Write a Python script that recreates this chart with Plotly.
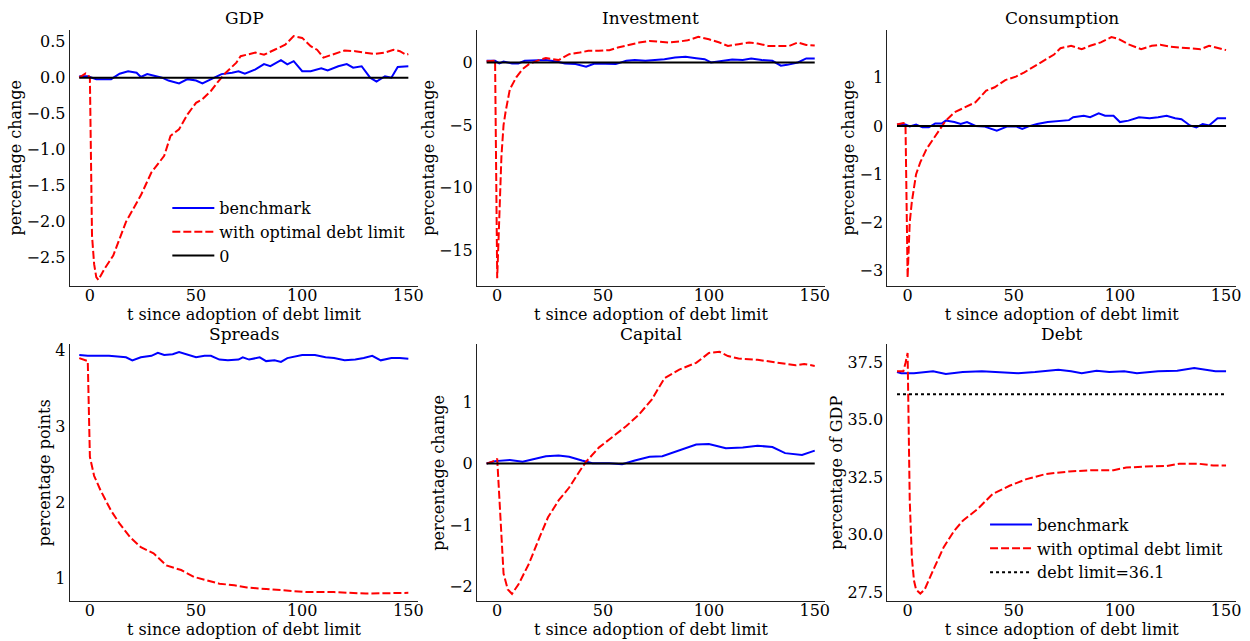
import plotly.graph_objects as go
from plotly.subplots import make_subplots

# ---------------- data ----------------
t_gdp_bench = [-5,-1,3,7,10,14,18,22,24,27,31,34,37,42,46,50,53,56,59,62,67,70,73,78,82,85,90,93,96,100,104,109,112,117,121,124,128,132,135,139,142,145,150]
gdp_bench = [0.02,0.02,-0.02,-0.02,-0.02,0.055,0.09,0.07,0.01,0.05,0.02,0,-0.04,-0.08,-0.02,-0.04,-0.08,-0.04,0,0.05,0.07,0.09,0.055,0.115,0.19,0.16,0.245,0.185,0.23,0.09,0.09,0.13,0.10,0.16,0.19,0.14,0.16,0,-0.055,0.02,0,0.15,0.16]
t_gdp_lim = [-5,-2,-1,0,1,2,3,4,7,11,17,24,29,35,38,42,46,50,53,57,60,64,69,71,78,82,87,92,96,100,104,107,110,115,120,125,129,134,139,143,146,149,150]
gdp_lim = [0,0.06,0.04,0.0,-2.2,-2.6,-2.78,-2.82,-2.66,-2.48,-2.01,-1.64,-1.32,-1.09,-0.81,-0.72,-0.51,-0.35,-0.30,-0.185,-0.07,0.07,0.21,0.30,0.35,0.32,0.39,0.46,0.58,0.555,0.44,0.39,0.28,0.33,0.38,0.37,0.35,0.33,0.35,0.39,0.37,0.32,0.33]

t_inv_bench = [-5,-1,1,3,7,10,13,18,23,28,32,37,42,46,51,56,61,65,70,75,79,84,89,94,98,101,106,111,116,120,125,130,134,137,142,146,150]
inv_bench = [0.13,0.13,-0.08,0.08,-0.08,-0.08,0.13,0.13,0.19,0.08,-0.08,-0.13,-0.34,-0.08,-0.08,-0.13,0.13,0.19,0.13,0.19,0.26,0.40,0.45,0.34,0.26,0,0.13,0.24,0.19,0.32,0.19,0.13,-0.26,-0.19,0,0.32,0.32]
t_inv_lim = [-5,-1,0,1,2,3,4,6,9,12,15,20,23,29,34,39,43,48,53,57,62,67,72,76,81,86,90,95,100,105,109,114,119,123,128,133,138,142,146,150]
inv_lim = [0.1,0.15,-17.2,-12.0,-7.5,-5.0,-3.9,-2.12,-1.19,-0.53,-0.13,0.21,0.35,0.19,0.66,0.79,0.93,0.93,0.98,1.19,1.40,1.59,1.72,1.67,1.59,1.67,1.77,2.04,1.85,1.59,1.32,1.46,1.59,1.51,1.32,1.32,1.32,1.59,1.40,1.35]

t_con_bench = [-5,-1,1,4,7,10,13,16,18,22,25,28,32,36,42,47,51,54,57,61,66,71,76,78,83,86,90,93,97,100,104,109,114,118,122,126,129,133,136,139,142,146,150]
con_bench = [0.03,0.03,-0.01,0.03,-0.03,-0.03,0.05,0.05,0.11,0.08,0.04,0.08,0,-0.01,-0.10,-0.01,-0.01,-0.06,-0.01,0.04,0.08,0.10,0.12,0.18,0.21,0.18,0.26,0.21,0.21,0.08,0.11,0.18,0.16,0.18,0.21,0.16,0.14,0.01,-0.03,0.04,0.01,0.16,0.16]
t_con_lim = [-5,-2,-1,0,1,2,4,6,9,12,15,18,22,27,32,37,41,46,51,55,60,65,69,72,77,82,86,91,96,99,104,110,115,119,124,129,133,138,142,146,150]
con_lim = [0.03,0.06,0.04,-3.15,-2.0,-1.57,-1.0,-0.75,-0.47,-0.27,-0.095,0.11,0.28,0.38,0.49,0.73,0.80,0.95,1.02,1.11,1.24,1.38,1.48,1.61,1.66,1.59,1.66,1.73,1.84,1.81,1.69,1.59,1.66,1.68,1.64,1.62,1.61,1.59,1.66,1.62,1.57]

t_spr_bench = [-5,-1,4,9,13,17,20,24,29,32,35,39,42,45,50,54,57,61,65,70,72,75,80,83,87,90,93,100,106,111,115,120,125,129,133,137,142,146,150]
spr_bench = [3.94,3.93,3.93,3.93,3.92,3.91,3.87,3.91,3.93,3.97,3.94,3.95,3.98,3.95,3.91,3.93,3.93,3.88,3.87,3.88,3.91,3.88,3.91,3.86,3.87,3.85,3.90,3.94,3.94,3.91,3.90,3.87,3.88,3.90,3.93,3.87,3.90,3.90,3.89]
t_spr_lim = [-5,-1,0,1,2,5,10,14,19,24,30,36,43,49,55,61,68,74,83,93,102,115,130,150]
spr_lim = [3.90,3.86,2.6,2.45,2.35,2.16,1.89,1.72,1.54,1.41,1.33,1.17,1.11,1.02,0.98,0.93,0.91,0.88,0.86,0.84,0.82,0.82,0.80,0.81]

t_cap_bench = [-5,-1,6,12,17,23,29,34,40,45,53,59,65,72,78,84,89,94,100,108,116,123,130,136,144,150]
cap_bench = [0,0.04,0.06,0.03,0.07,0.12,0.13,0.11,0.05,0.005,0.005,-0.01,0.05,0.11,0.12,0.19,0.26,0.31,0.32,0.25,0.26,0.29,0.27,0.17,0.14,0.21]
t_cap_lim = [-5,-1,0,1,2,3,5,7,10,15,20,24,29,34,39,42,48,54,61,67,73,79,86,94,100,105,109,114,123,131,141,145,150]
cap_lim = [0,0.05,0.08,-0.6,-1.3,-1.79,-2.05,-2.12,-1.97,-1.63,-1.2,-0.875,-0.60,-0.39,-0.12,0.03,0.26,0.42,0.61,0.80,1.04,1.39,1.53,1.64,1.80,1.82,1.75,1.71,1.69,1.65,1.60,1.62,1.59]

t_debt_bench = [-5,-3,3,12,18,26,35,44,52,60,71,77,82,89,95,102,108,118,127,135,140,145,150]
debt_bench = [37.07,37.02,37.02,37.10,36.98,37.07,37.10,37.07,37.02,37.07,37.17,37.10,37.02,37.12,37.07,37.10,37.02,37.10,37.12,37.24,37.17,37.10,37.10]
t_debt_lim = [-5,-2,-1,0,1,2,3,4,6,8,12,17,22,26,33,40,48,56,65,76,87,97,103,112,122,128,137,144,150]
debt_lim = [37.1,37.1,37.46,37.9,31.5,29.0,28.0,27.6,27.43,27.6,28.44,29.45,30.17,30.6,31.11,31.76,32.12,32.41,32.63,32.74,32.80,32.80,32.91,32.96,32.98,33.08,33.08,33.0,33.0]

t_span = [-5, 150]
zero_line = [0, 0]
debt_limit_value = 36.1
debt_limit_line = [debt_limit_value, debt_limit_value]

titles = ["GDP", "Investment", "Consumption", "Spreads", "Capital", "Debt"]
ylabels = ["percentage change", "percentage change", "percentage change",
           "percentage points", "percentage change", "percentage of GDP"]
xlabel = "t since adoption of debt limit"

# ---------------- figure ----------------
W, H = 1250, 641
FONT = "DejaVu Serif, Liberation Serif, serif"
fig = make_subplots(rows=2, cols=3)

BLUE = dict(color="blue", width=2)
RED = dict(color="red", width=2, dash="8px,3px")
BLACK = dict(color="black", width=2)

panels = [
    (1, 1, t_gdp_bench, gdp_bench, t_gdp_lim, gdp_lim, True),
    (1, 2, t_inv_bench, inv_bench, t_inv_lim, inv_lim, True),
    (1, 3, t_con_bench, con_bench, t_con_lim, con_lim, True),
    (2, 1, t_spr_bench, spr_bench, t_spr_lim, spr_lim, False),
    (2, 2, t_cap_bench, cap_bench, t_cap_lim, cap_lim, True),
    (2, 3, t_debt_bench, debt_bench, t_debt_lim, debt_lim, False),
]

for i, (r, c, tb, yb, tl, yl, zero) in enumerate(panels):
    leg = None
    show = False
    if i == 0:
        leg, show = "legend", True
    elif i == 5:
        leg, show = "legend2", True
    kw = dict(legend=leg) if leg else {}
    fig.add_trace(go.Scatter(x=tb, y=yb, mode="lines", line=BLUE, name="benchmark",
                             showlegend=show, **kw), row=r, col=c)
    fig.add_trace(go.Scatter(x=tl, y=yl, mode="lines", line=RED, name="with optimal debt limit",
                             showlegend=show, **kw), row=r, col=c)
    if zero:
        fig.add_trace(go.Scatter(x=t_span, y=zero_line, mode="lines", line=BLACK, name="0",
                                 showlegend=show, **kw), row=r, col=c)
    if i == 5:
        fig.add_trace(go.Scatter(x=t_span, y=debt_limit_line, mode="lines",
                                 line=dict(color="black", width=2, dash="dot"),
                                 name="debt limit=36.1", showlegend=True, legend="legend2"),
                      row=r, col=c)

# panel geometry in pixels (left, right, top, bottom)
xpix = [(70, 420), (479, 828), (891, 1241)]
ypix = [(27, 284), (343, 601)]
yranges = [(-2.90, 0.667), (-17.8, 2.6), (-3.31, 1.99), (0.70, 4.08), (-2.24, 1.94), (27.1, 38.27)]
ytick = [
    ([-2.5, -2.0, -1.5, -1.0, -0.5, 0.0, 0.5], ".1f"),
    ([-15, -10, -5, 0], "d"),
    ([-3, -2, -1, 0, 1], "d"),
    ([1, 2, 3, 4], "d"),
    ([-2, -1, 0, 1], "d"),
    ([27.5, 30.0, 32.5, 35.0, 37.5], ".1f"),
]

for i in range(6):
    r, c = divmod(i, 3)
    xl, xr = xpix[c]
    yt, yb_ = ypix[r]
    xa = "xaxis" if i == 0 else f"xaxis{i+1}"
    ya = "yaxis" if i == 0 else f"yaxis{i+1}"
    fig.layout[xa].update(
        domain=[xl / W, xr / W], range=[-9.5, 154.7],
        tickvals=[0, 50, 100, 150], ticks="", showgrid=False, zeroline=False,
        showline=True, linecolor="#222", linewidth=1.2, ticklabelstandoff=-5,
        tickfont=dict(family=FONT, size=16, color="black"),
        title=dict(text=xlabel, font=dict(family=FONT, size=16, color="black"), standoff=0),
    )
    fig.layout[ya].update(
        domain=[1 - yb_ / H, 1 - yt / H], range=list(yranges[i]),
        tickvals=ytick[i][0], tickformat=ytick[i][1], ticks="", showgrid=False, zeroline=False,
        showline=True, linecolor="#222", linewidth=1.2,
        tickfont=dict(family=FONT, size=16, color="black"),
        title=dict(text=ylabels[i], font=dict(family=FONT, size=16, color="black"), standoff=0),
    )
    fig.add_annotation(text=titles[i], x=(xl + xr) / 2 / W, y=1 - (yt - 10 - (2 if r == 0 else 0)) / H,
                       xref="paper", yref="paper", showarrow=False,
                       font=dict(family=FONT, size=17, color="black"),
                       xanchor="center", yanchor="middle")

legfont = dict(family=FONT, size=16, color="black")
fig.update_layout(
    width=W, height=H,
    margin=dict(l=0, r=0, t=0, b=0),
    paper_bgcolor="white", plot_bgcolor="white",
    font=dict(family=FONT, color="black"),
    legend=dict(x=168 / W, y=1 - 189 / H, xanchor="left", yanchor="top", itemwidth=42,
                bgcolor="rgba(0,0,0,0)", font=legfont, tracegroupgap=0),
    legend2=dict(x=989 / W, y=1 - 507 / H, xanchor="left", yanchor="top", itemwidth=42,
                 bgcolor="rgba(0,0,0,0)", font=legfont, tracegroupgap=0),
)

fig.write_html("out.html", config={"displayModeBar": False},
               post_script="document.body.style.margin='0';document.body.style.overflow='hidden';")
